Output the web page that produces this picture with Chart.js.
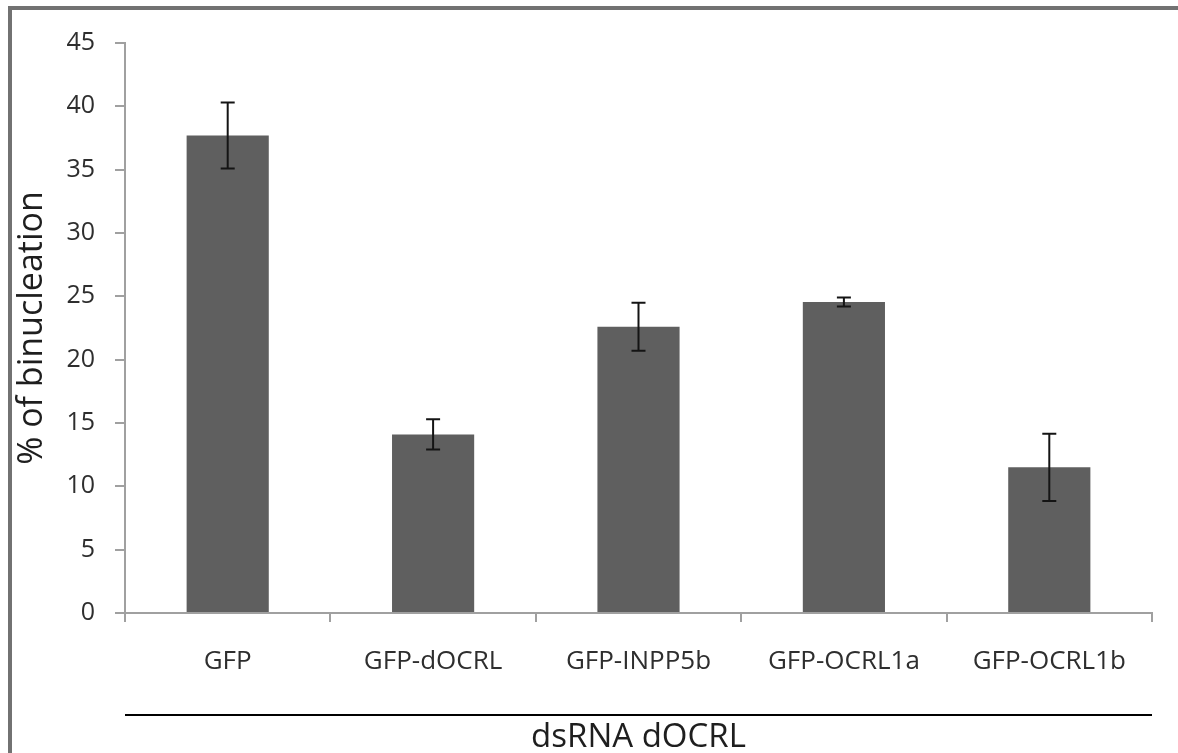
<!DOCTYPE html>
<html>
<head>
    <meta charset="utf-8">
    <script src="https://cdn.jsdelivr.net/npm/chart.js@4.4.1/dist/chart.umd.min.js"></script>
    <style>
        html, body {
            margin: 0;
            padding: 0;
            background: #ffffff;
        }
        #wrap {
            width: 1178px;
            height: 753px;
        }
    </style>
</head>
<body>
<div id="wrap">
    <canvas id="binucleationChart" width="1178" height="753"></canvas>
</div>
<script>
    const categories = ['GFP', 'GFP-dOCRL', 'GFP-INPP5b', 'GFP-OCRL1a', 'GFP-OCRL1b'];
    const binucleation = [37.7, 14.1, 22.6, 24.55, 11.5];
    const errors = [2.6, 1.2, 1.9, 0.35, 2.65];
    const yTicks = [0, 5, 10, 15, 20, 25, 30, 35, 40, 45];

    const FONT = "'Open Sans', 'DejaVu Sans', sans-serif";

    // grey frame on the left and top edges
    const frame = {
        id: 'frame',
        beforeDraw(chart) {
            const ctx = chart.ctx;
            ctx.save();
            ctx.fillStyle = '#ffffff';
            ctx.fillRect(0, 0, chart.width, chart.height);
            ctx.strokeStyle = '#727272';
            ctx.lineWidth = 4;
            ctx.beginPath();
            ctx.moveTo(10, chart.height + 5);
            ctx.lineTo(10, 8);
            ctx.lineTo(chart.width + 5, 8);
            ctx.stroke();
            ctx.restore();
        }
    };

    // +/- error bars with caps
    const errorBars = {
        id: 'errorBars',
        afterDatasetsDraw(chart) {
            const ctx = chart.ctx;
            const x = chart.scales.x;
            const y = chart.scales.y;
            ctx.save();
            ctx.strokeStyle = '#141414';
            ctx.lineWidth = 2;
            binucleation.forEach((v, i) => {
                const cx = x.getPixelForValue(i);
                const top = y.getPixelForValue(v + errors[i]);
                const bottom = y.getPixelForValue(v - errors[i]);
                ctx.beginPath();
                ctx.moveTo(cx, top);
                ctx.lineTo(cx, bottom);
                ctx.moveTo(cx - 7, top);
                ctx.lineTo(cx + 7, top);
                ctx.moveTo(cx - 7, bottom);
                ctx.lineTo(cx + 7, bottom);
                ctx.stroke();
            });
            ctx.restore();
        }
    };

    // black rule between the category labels and the dsRNA title
    const groupRule = {
        id: 'groupRule',
        afterDraw(chart) {
            const ctx = chart.ctx;
            const x = chart.scales.x;
            ctx.save();
            ctx.strokeStyle = '#000000';
            ctx.lineWidth = 2;
            ctx.beginPath();
            ctx.moveTo(x.left, x.top + 102);
            ctx.lineTo(x.right, x.top + 102);
            ctx.stroke();
            ctx.restore();
        }
    };

    const data = {
        labels: categories,
        datasets: [
            {
                label: '% of binucleation',
                backgroundColor: '#5f5f5f',
                borderWidth: 0,
                data: binucleation,
                categoryPercentage: 1,
                barPercentage: 0.4,
            }
        ]
    };

    const config = {
        type: 'bar',
        data: data,
        options: {
            responsive: false,
            animation: false,
            layout: {
                padding: {left: 12, top: 43, right: 26, bottom: 0}
            },
            plugins: {
                legend: {display: false},
                tooltip: {enabled: false},
            },
            scales: {
                x: {
                    offset: true,
                    grid: {
                        offset: true,
                        drawOnChartArea: false,
                        color: '#a0a0a0',
                        tickColor: '#a0a0a0',
                        tickLength: 9,
                        lineWidth: 2,
                    },
                    border: {color: '#a0a0a0', width: 2},
                    ticks: {
                        color: '#2e2e2e',
                        padding: 24,
                        maxRotation: 0,
                        font: {size: 26, family: FONT},
                    },
                    title: {
                        display: true,
                        text: 'dsRNA dOCRL',
                        color: '#1e1e1e',
                        padding: {top: 0, bottom: -4},
                        font: {size: 33, family: FONT},
                    },
                    afterFit(scale) {
                        scale.height = 140;
                    },
                },
                y: {
                    min: 0,
                    max: 45,
                    afterBuildTicks(scale) {
                        scale.ticks = yTicks.map(v => ({value: v}));
                    },
                    grid: {
                        drawOnChartArea: false,
                        color: '#a0a0a0',
                        tickColor: '#a0a0a0',
                        tickLength: 10,
                        lineWidth: 2,
                    },
                    border: {color: '#a0a0a0', width: 2},
                    ticks: {
                        color: '#2e2e2e',
                        padding: 20,
                        font: {size: 25, family: FONT},
                    },
                    title: {
                        display: true,
                        text: '% of binucleation',
                        color: '#1e1e1e',
                        padding: {top: 0, bottom: 0},
                        font: {size: 34, family: FONT},
                    },
                    afterFit(scale) {
                        scale.width = 113;
                    },
                },
            },
        },
        plugins: [frame, errorBars, groupRule],
    };

    const binucleationChart = new Chart(
        document.getElementById('binucleationChart'),
        config,
    );
</script>
</body>
</html>
